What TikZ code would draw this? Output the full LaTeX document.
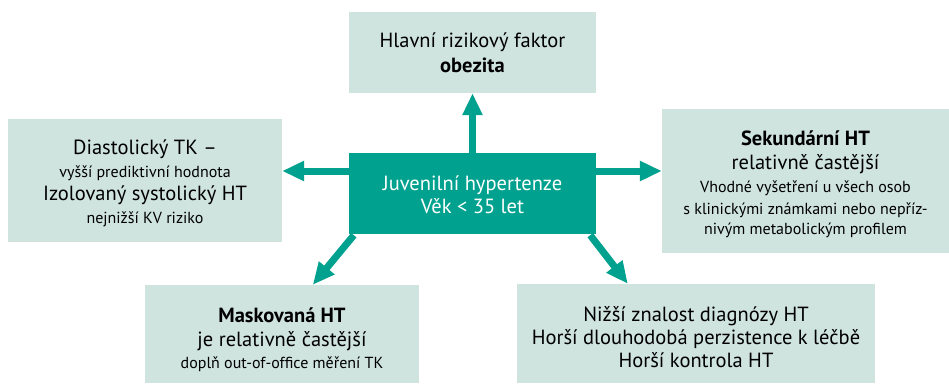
\documentclass[tikz,border=0pt]{standalone}
\usepackage{fontspec}
\setmainfont{PT Sans}
\usetikzlibrary{arrows.meta}
\definecolor{teal1}{HTML}{00A18E}
\definecolor{boxc}{HTML}{CFE3DF}
\newcommand{\bigt}{\fontsize{20.5}{23}\selectfont}
\newcommand{\smallt}{\fontsize{16}{23}\selectfont}
\tikzset{
  infobox/.style={fill=boxc, inner sep=0pt, align=center, text=black, font=\bigt},
  centerbox/.style={fill=teal1, inner sep=0pt, align=center, text=white, font=\bigt},
  bigarrow/.style={draw=teal1, line width=7pt, -{Triangle[width=19pt,length=22pt]}}
}
\begin{document}
\begin{tikzpicture}[x=1pt,y=-1pt]
\useasboundingbox (0,0) rectangle (949,383);
\node[infobox, minimum width=247pt, minimum height=81pt] (top) at (472.5,52.5)
  {Hlavní rizikový faktor\\[2pt] \textbf{obezita}};
\node[infobox, minimum width=274pt, minimum height=123pt] (left) at (145,180.5)
  {\rule{0pt}{21pt}Diastolický TK –\\ \smallt vyšší prediktivní hodnota\\ Izolovaný systolický HT\\ \smallt nejnižší KV riziko};
\node[centerbox, minimum width=247pt, minimum height=81pt] (c) at (472.5,193.5)
  {\rule{0pt}{18pt}Juvenilní hypertenze\\ Věk < 35 let};
\node[infobox, minimum width=287pt, minimum height=144pt] (right) at (805.5,181)
  {\rule{0pt}{21pt}\textbf{Sekundární HT}\\[1pt] relativně častější\\ \smallt Vhodné vyšetření u všech osob\\[-1pt] \smallt s klinickými známkami nebo nepříz-\\[-3pt] \smallt nivým metabolickým profilem};
\node[infobox, minimum width=274pt, minimum height=98pt] (ml) at (282,334)
  {\rule{0pt}{27pt}\textbf{Maskovaná HT}\\[1pt] je relativně častější\\[-1pt] \smallt doplň out-of-office měření TK};
\node[infobox, minimum width=358pt, minimum height=99pt] (mr) at (696,333.5)
  {\rule{0pt}{23pt}Nižší znalost diagnózy HT\\ Horší dlouhodobá perzistence k léčbě\\ Horší kontrola HT};
\draw[bigarrow] (c.north) -- (top.south);
\draw[bigarrow] ([yshift=22.5pt]c.west) -- ([yshift=22.5pt]c.west -| left.east);
\draw[bigarrow] ([yshift=22.5pt]c.east) -- ([yshift=22.5pt]c.east -| right.west);
\draw[bigarrow] ([xshift=5pt,yshift=-1pt]c.south west) -- ([xshift=168pt]ml.north west);
\draw[bigarrow] ([xshift=-6pt,yshift=-1pt]c.south east) -- ([xshift=111pt]mr.north west);
\end{tikzpicture}
\end{document}
